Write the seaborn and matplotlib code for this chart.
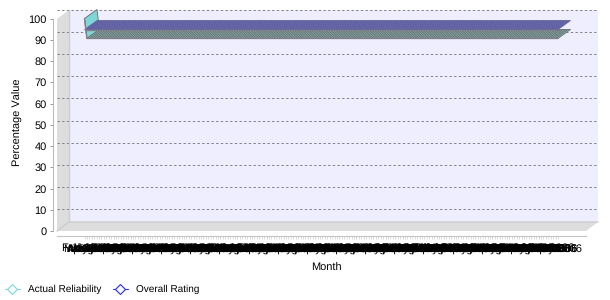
import matplotlib
matplotlib.use("Agg")
import matplotlib.pyplot as plt
from matplotlib.collections import PolyCollection
from matplotlib.lines import Line2D
from matplotlib.patches import Polygon
import numpy as np
import pandas as pd
import seaborn as sns

W, H = 610, 300
series_names = ["Actual Reliability", "Overall Rating"]
month_labels = [d.strftime("%b-%Y") for d in pd.date_range("1990-02-01", "2006-05-01", freq="MS")]
actual_reliability = [100.0] + [90.6] * (len(month_labels) - 1)
overall_rating = [94.8] * len(month_labels)
y_ticks = [0, 10, 20, 30, 40, 50, 60, 70, 80, 90, 100]
grid_levels = [10, 20, 30, 40, 50, 60, 70, 80, 90, 100]

TEAL, BLUE = "#7FD6D6", "#5C5CB8"
TEAL_EDGE, BLUE_EDGE = "#707070", "#66669A"
LEG_TEAL, LEG_BLUE = "#7FD6D6", "#2A2AF0"
EDGE = "#808088"

sns.set_theme(style="white")
plt.rcParams["font.family"] = ["Liberation Sans", "DejaVu Sans"]
plt.rcParams["text.hinting"] = "none"
plt.rcParams["text.hinting_factor"] = 1
FS = 7.6
fig = plt.figure(figsize=(W / 100, H / 100), dpi=100, facecolor="white")


def axes_px(x0, x1, ytop, ybot):
    return fig.add_axes([x0 / W, 1 - ybot / H, (x1 - x0) / W, (ybot - ytop) / H])


# back wall, side wall, floor and grid
back = axes_px(57, 598, 10, 231)
back.set_xlim(57, 598)
back.set_ylim(231, 10)
back.patch.set_visible(False)
for s in back.spines.values():
    s.set_visible(False)
back.set_xticks([])
back.set_yticks([])
back.add_patch(Polygon([(69, 10), (598, 10), (598, 222), (69, 222)], fc="#EEEEFF", ec="none", zorder=1))
back.add_patch(Polygon([(57, 19), (69, 10), (69, 222), (57, 231)], fc="#DDDDDD", ec="none", zorder=1))
grid_ax = back.inset_axes([0, 0, 1, 1])
grid_ax.set_zorder(1)
grid_ax.patch.set_visible(False)
grid_ax.set_xlim(0, 1)
grid_ax.set_ylim(0, 100)
grid_ax.set_yticks(grid_levels)
grid_ax.set_xticks([])
grid_ax.tick_params(left=False, labelleft=False)
grid_ax.grid(True, axis="y", color="#808088", lw=0.7, ls=(0, (2.4, 2.4)))
for s in grid_ax.spines.values():
    s.set_visible(False)

# floor sits over the lower wall
floor_ax = axes_px(57, 598, 10, 231)
floor_ax.set_zorder(2)
floor_ax.set_xlim(57, 598)
floor_ax.set_ylim(231, 10)
floor_ax.axis("off")
floor_ax.add_patch(Polygon([(57, 231), (69, 222), (598, 222), (586, 231)], fc="#DDDDDD", ec="none"))
floor_ax.plot([57, 69, 598], [231, 222, 222], color="#CCCCCC", lw=1, clip_on=False)
floor_ax.plot([69, 69], [10, 222], color="#CCCCCC", lw=1, clip_on=False)

# front plane with real scales
ax = axes_px(57, 586, 18.5, 231)
ax.set_zorder(3)
ax.patch.set_visible(False)
px_per_month = (558 - 84.5) / (len(month_labels) - 1)
ax.set_xlim(-(84.5 - 57) / px_per_month, (586 - 84.5) / px_per_month)
ax.set_ylim(0, 100)
depth_x = 12.5 / px_per_month
depth_y = 9 / (212.5 / 100)

x = np.arange(len(month_labels))
for vals, col, edge, lw in [(actual_reliability, TEAL, TEAL_EDGE, 0.65), (overall_rating, BLUE, BLUE_EDGE, 0.55)]:
    v = np.asarray(vals)
    polys = [
        [(x[i], v[i]), (x[i + 1], v[i + 1]), (x[i + 1] + depth_x, v[i + 1] + depth_y), (x[i] + depth_x, v[i] + depth_y)]
        for i in range(len(x) - 1)
    ]
    ax.add_collection(PolyCollection(polys, facecolors=col, edgecolors=edge, linewidths=lw, clip_on=False, zorder=3))

frame = pd.DataFrame({
    "idx": np.r_[x, x],
    "value": np.r_[actual_reliability, overall_rating],
    "series": np.repeat(series_names, len(x)),
})
sns.lineplot(data=frame, x="idx", y="value", hue="series", palette=[EDGE, EDGE], lw=1, legend=False,
             ax=ax, clip_on=False, zorder=4, estimator=None)
ax.set_xlim(-(84.5 - 57) / px_per_month, (586 - 84.5) / px_per_month)
ax.set_ylim(0, 100)

ax.set_yticks(y_ticks)
ax.set_xticks(x)
ax.set_xticklabels(month_labels)
for side in ["top", "right"]:
    ax.spines[side].set_visible(False)
ax.spines["left"].set_position(("outward", 2.9))
ax.spines["bottom"].set_position(("outward", 3.6))
ax.spines["left"].set_color("#BBBBBB")
ax.spines["bottom"].set_color("#C4C4C4")
ax.spines["left"].set_linewidth(0.8)
ax.spines["bottom"].set_linewidth(0.8)
ax.tick_params(axis="y", left=True, length=2.2, width=0.7, color="#999999", labelsize=FS, pad=2.4, labelcolor="black")
ax.tick_params(axis="x", bottom=True, length=1.8, width=0.4, color="#C0C0C0", labelsize=FS, pad=4.0, labelcolor="black")
ax.set_xlabel("")
ax.set_ylabel("")

fig.text(326 / W, 1 - 268.5 / H, "Month", ha="center", va="center", fontsize=FS, color="black")
fig.text(17.5 / W, 1 - 122 / H, "Percentage Value", rotation=90, ha="center", va="center", fontsize=FS * 1.02, color="black")

# legend
leg_ax = axes_px(0, W, 0, H)
leg_ax.set_xlim(0, W)
leg_ax.set_ylim(H, 0)
leg_ax.axis("off")
leg_ax.patch.set_visible(False)
for x0, col, label, tx in [(12, LEG_TEAL, series_names[0], 28), (120, LEG_BLUE, series_names[1], 136)]:
    leg_ax.add_line(Line2D([x0 - 7.5, x0 + 7.5], [288.5, 288.5], color=col, lw=0.8))
    leg_ax.add_line(Line2D([x0], [288.5], marker="D", ms=5, mfc="#F4FBFF", mec=col, mew=0.8, ls="none"))
    leg_ax.text(tx, 289.2, label, ha="left", va="center", fontsize=7.35, color="black")

fig.savefig("out.png", dpi=100, facecolor="white")
